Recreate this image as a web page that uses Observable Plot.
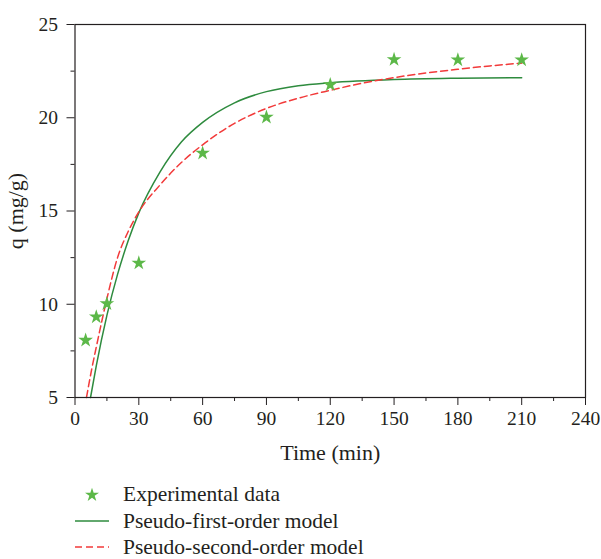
<!DOCTYPE html>
<html>
<head>
<meta charset="utf-8">
<script src="https://cdn.jsdelivr.net/npm/d3@7"></script>
<script src="https://cdn.jsdelivr.net/npm/@observablehq/plot@0.6"></script>
<style>
  html, body { margin: 0; padding: 0; background: #fff; }
  #wrap { position: relative; width: 601px; height: 559px; font-family: "Liberation Serif", "DejaVu Serif", serif; color: #231f20; }
  .leg { position: absolute; left: 0; height: 24px; display: flex; align-items: center; font-size: 21.5px; line-height: 24px; }
  .leg svg { display: block; }
  #wrap svg [aria-label="x-axis label"] text, #wrap svg [aria-label="y-axis label"] text { font-size: 22px; }
  #wrap svg [aria-label="x-axis tick label"] text, #wrap svg [aria-label="y-axis tick label"] text { font-size: 19.5px; }
</style>
</head>
<body>
<div id="wrap"></div>
<script>
// Experimental data
const expTime = [5, 10, 15, 30, 60, 90, 120, 150, 180, 210];
const expQ = [8.07, 9.32, 10.03, 12.21, 18.1, 20.03, 21.77, 23.12, 23.1, 23.1];

// Pseudo-first-order model
const pfoTime = [7.3, 10, 15, 20, 25, 30, 40, 50, 60, 75, 90, 105, 120, 150, 180, 210];
const pfoQ = [5.0, 6.7, 9.4, 11.6, 13.4, 14.9, 17.1, 18.7, 19.75, 20.8, 21.4, 21.72, 21.88, 22.05, 22.12, 22.15];

// Pseudo-second-order model
const psoTime = [5.4, 8, 10, 15, 20, 25, 30, 40, 50, 60, 75, 90, 105, 120, 135, 150, 165, 180, 195, 210];
const psoQ = [5.0, 6.6, 7.7, 10.3, 12.5, 13.9, 14.95, 16.4, 17.6, 18.55, 19.7, 20.5, 21.05, 21.47, 21.85, 22.15, 22.4, 22.6, 22.78, 22.93];

// Ticks
const xTicks = [0, 30, 60, 90, 120, 150, 180, 210, 240];
const xMinor = [15, 45, 75, 105, 135, 165, 195, 225];
const yTicks = [5, 10, 15, 20, 25];
const yMinor = [7.5, 12.5, 17.5, 22.5];

const legendLabels = ["Experimental data", "Pseudo-first-order model", "Pseudo-second-order model"];

const expData = expTime.map((t, i) => ({t, q: expQ[i]}));
const pfoData = pfoTime.map((t, i) => ({t, q: pfoQ[i]}));
const psoData = psoTime.map((t, i) => ({t, q: psoQ[i]}));

const ink = "#231f20";
const starColor = "#5cb848";
const greenLine = "#2e8b3e";
const redLine = "#f23a3a";

const chart = Plot.plot({
  width: 601,
  height: 470,
  marginLeft: 74.5,
  marginRight: 16,
  marginTop: 24,
  marginBottom: 73,
  style: { fontFamily: "Liberation Serif, DejaVu Serif, serif", fontSize: "19.5px", color: ink, background: "#fff" },
  x: { domain: [0, 240] },
  y: { domain: [5, 25] },
  marks: [
    Plot.line(pfoData, { x: "t", y: "q", stroke: greenLine, strokeWidth: 1.5, curve: "monotone-x" }),
    Plot.line(psoData, { x: "t", y: "q", stroke: redLine, strokeWidth: 1.5, strokeDasharray: "7,4", curve: "monotone-x" }),
    Plot.dot(expData, { x: "t", y: "q", symbol: "star", r: 4.6, fill: starColor, stroke: "none" }),
    Plot.frame({ stroke: ink, strokeWidth: 1.2 }),
    Plot.axisX({ ticks: xTicks, tickSize: 8, tickPadding: 6, stroke: ink, fill: ink, fontSize: 19.5,
      label: "Time (min)", labelAnchor: "center", labelArrow: "none", labelOffset: 62 }),
    Plot.axisX({ ticks: xMinor, tickSize: 4, tickFormat: () => "", label: null, stroke: ink }),
    Plot.axisY({ ticks: yTicks, tickSize: 8, tickPadding: 9, stroke: ink, fill: ink, fontSize: 19.5,
      label: "q (mg/g)", labelAnchor: "center", labelArrow: "none", labelOffset: 68 }),
    Plot.axisY({ ticks: yMinor, tickSize: 4, tickFormat: () => "", label: null, stroke: ink })
  ]
});

const wrap = document.getElementById("wrap");
wrap.appendChild(chart);

// Legend below the chart
const starPath = d3.symbol(d3.symbolStar, Math.PI * 4.4 * 4.4)();
const legendItems = [
  { top: 482, draw: g => g.append("path").attr("d", starPath).attr("transform", "translate(18,13)").attr("fill", starColor) },
  { top: 509, draw: g => g.append("line").attr("x1", 1).attr("x2", 35).attr("y1", 12).attr("y2", 12).attr("stroke", greenLine).attr("stroke-width", 1.5) },
  { top: 535, draw: g => g.append("line").attr("x1", 1).attr("x2", 35).attr("y1", 12).attr("y2", 12).attr("stroke", redLine).attr("stroke-width", 1.5).attr("stroke-dasharray", "7,4") }
];
legendItems.forEach((item, i) => {
  const div = document.createElement("div");
  div.className = "leg";
  div.style.top = item.top + "px";
  div.style.left = "74px";
  const svg = d3.create("svg").attr("width", 40).attr("height", 24);
  item.draw(svg);
  div.appendChild(svg.node());
  const span = document.createElement("span");
  span.style.marginLeft = "9px";
  span.textContent = legendLabels[i];
  div.appendChild(span);
  wrap.appendChild(div);
});
</script>
</body>
</html>
